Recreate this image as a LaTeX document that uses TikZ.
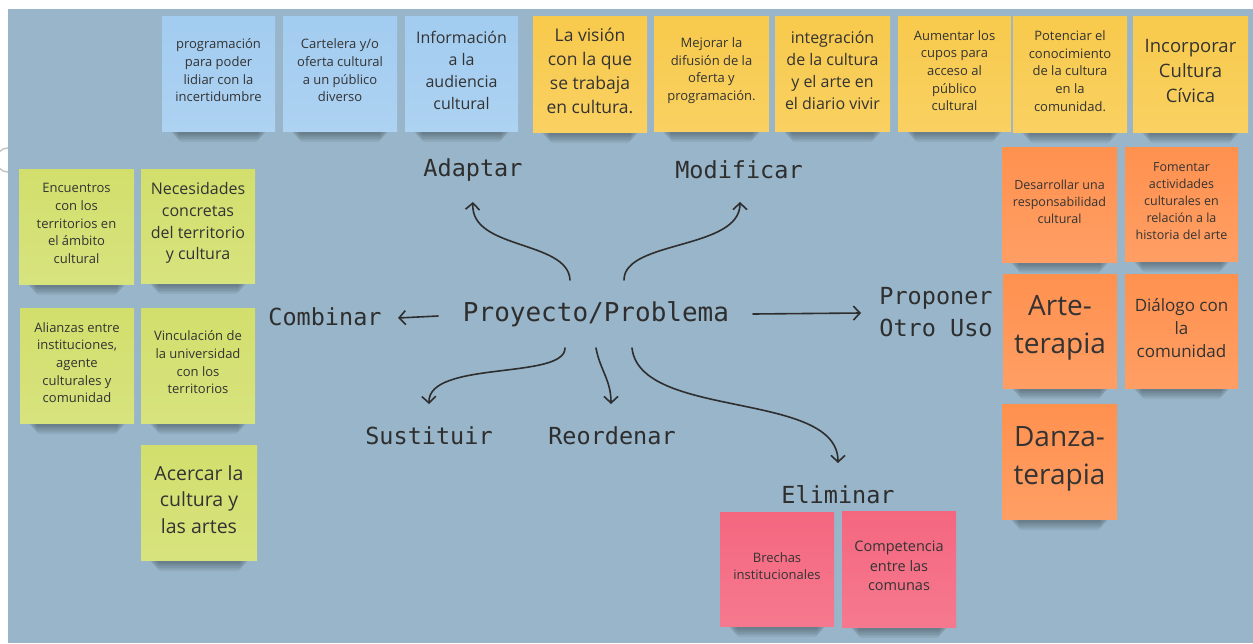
\documentclass[tikz,border=0pt]{standalone}
\usepackage{fontspec}
\setmainfont{Open Sans}
\newfontfamily\labfont{DejaVu Sans Mono}
\usetikzlibrary{arrows.meta}
\definecolor{bgc}{HTML}{98B5C9}
\definecolor{nblue}{HTML}{A2CCF0}
\definecolor{nyel}{HTML}{F8CA4C}
\definecolor{ngreen}{HTML}{D2DF6C}
\definecolor{norange}{HTML}{FF914F}
\definecolor{npink}{HTML}{F4677F}
\definecolor{ntext}{HTML}{333333}
\definecolor{ltext}{HTML}{2E2E2E}
\tikzset{
  note/.style={rectangle, draw=none, inner sep=0pt},
  notetext/.style={inner sep=1pt, align=center, text=ntext},
  lab/.style={text=ltext, inner sep=1pt, font=\labfont\fontsize{23.5}{32}\selectfont},
  conn/.style={-{Straight Barb[length=6.5pt,width=14pt,line width=1.6pt]}, line width=1.6pt, line cap=round, draw=ltext},
}
\newcommand{\sticky}[8]{%
  \foreach \k in {0,...,5}{%
    \fill[black,opacity=0.055,rounded corners=3pt] ({#2+9+\k*1.5},{#5-4}) rectangle ({#4-9-\k*1.5},{#5+3+\k*1.6});}
  \pgfmathsetmacro\mylsk{#7*1.36}%
  \node[note, top color=#6, bottom color=#6!88!white, minimum width={#4-#2}, minimum height={#5-#3}] (#1) at ({(#2+#4)/2},{(#3+#5)/2}) {};
  \node[notetext, font=\fontsize{#7}{\mylsk}\selectfont] (#1t) at ([yshift=3pt]#1.center) {#8};
}
\begin{document}
\begin{tikzpicture}[x=1pt,y=-1pt]
\useasboundingbox (0,0) rectangle (1253,643);
\fill[white] (0,0) rectangle (1253,643);
\draw[gray!45,line width=1.5pt] (8,160) circle (12);
\fill[bgc] (8,9) rectangle (1253,643);

% top row
\sticky{b1}{162}{16}{275}{131}{nblue}{13}{programación\\para poder\\lidiar con la\\incertidumbre}
\sticky{b2}{283}{16}{397}{131}{nblue}{13}{Cartelera y/o\\oferta cultural\\a un público\\diverso}
\sticky{b3}{405}{16}{518}{131}{nblue}{16}{Información\\a la\\audiencia\\cultural}
\sticky{y1}{533}{16}{647}{132}{nyel}{17.5}{La visión\\con la que\\se trabaja\\en cultura.}
\sticky{y2}{654}{16}{769}{131}{nyel}{13}{Mejorar la\\difusión de la\\oferta y\\programación.}
\sticky{y3}{775}{16}{890}{131}{nyel}{16}{integración\\de la cultura\\y el arte en\\el diario vivir}
\sticky{y4}{898}{16}{1011}{131}{nyel}{13}{Aumentar los\\cupos para\\acceso al\\público\\cultural}
\sticky{y5}{1013}{16}{1127}{132}{nyel}{13}{Potenciar el\\conocimiento\\de la cultura\\en la\\comunidad.}
\sticky{y6}{1133}{16}{1248}{132}{nyel}{18.5}{Incorporar\\Cultura\\Cívica}

% left green
\sticky{g1}{19}{169}{134}{284}{ngreen}{13}{Encuentros\\con los\\territorios en\\el ámbito\\cultural}
\sticky{g2}{141}{169}{255}{283}{ngreen}{16}{Necesidades\\concretas\\del territorio\\y cultura}
\sticky{g3}{20}{308}{134}{423}{ngreen}{13}{Alianzas entre\\instituciones,\\agente\\culturales y\\comunidad}
\sticky{g4}{141}{308}{255}{423}{ngreen}{13}{Vinculación de\\la universidad\\con los\\territorios}
\sticky{g5}{141}{445}{257}{560}{ngreen}{19.5}{Acercar la\\cultura y\\las artes}

% right orange
\sticky{o1}{1002}{147}{1117}{262}{norange}{12.5}{Desarrollar una\\responsabilidad\\cultural}
\sticky{o2}{1125}{147}{1238}{261}{norange}{12.5}{Fomentar\\actividades\\culturales en\\relación a la\\historia del arte}
\sticky{o3}{1003}{274}{1117}{388}{norange}{28}{Arte-\\terapia}
\sticky{o4}{1125}{274}{1238}{388}{norange}{17}{Diálogo con\\la\\comunidad}
\sticky{o5}{1002}{404}{1117}{519}{norange}{28}{Danza-\\terapia}

% pink
\sticky{p1}{720}{512}{834}{626}{npink}{13}{Brechas\\institucionales}
\sticky{p2}{842}{511}{956}{627}{npink}{14.5}{Competencia\\entre las\\comunas}

% labels
\node[lab, font=\labfont\fontsize{26}{32}\selectfont] (main) at (596,314) {Proyecto/Problema};
\node[lab] (adaptar) at (473,170) {Adaptar};
\node[lab] (modificar) at (739,170) {Modificar};
\node[lab] (combinar) at (325,317) {Combinar};
\node[lab, align=left] (proponer) at (936,312) {Proponer\\Otro Uso};
\node[lab] (sustituir) at (429,436) {Sustituir};
\node[lab] (reordenar) at (612,436) {Reordenar};
\node[lab] (eliminar) at (838,495) {Eliminar};

% connector ends
\coordinate (sA) at (570,280);
\coordinate (tA) at (473,202);
\coordinate (sM) at (624,280);
\coordinate (tM) at (740,202);
\coordinate (sC) at (438,316);
\coordinate (tC) at (398,318);
\coordinate (sP) at (753,314);
\coordinate (tP) at (861,313);
\coordinate (sS) at (565,348);
\coordinate (tS) at (429,404);
\coordinate (sR) at (596,348);
\coordinate (tR) at (611,404);
\coordinate (sE) at (632,348);
\coordinate (tE) at (838,463);

\draw[conn] (sA) .. controls (568,240) and (470,250) .. (tA);
\draw[conn] (sM) .. controls (624,240) and (740,250) .. (tM);
\draw[conn] (sC) -- (tC);
\draw[conn] (sP) -- (tP);
\draw[conn] (sS) .. controls (565,380) and (428,360) .. (tS);
\draw[conn] (sR) .. controls (600,370) and (611,380) .. (tR);
\draw[conn] (sE) .. controls (640,420) and (838,390) .. (tE);
\end{tikzpicture}
\end{document}
